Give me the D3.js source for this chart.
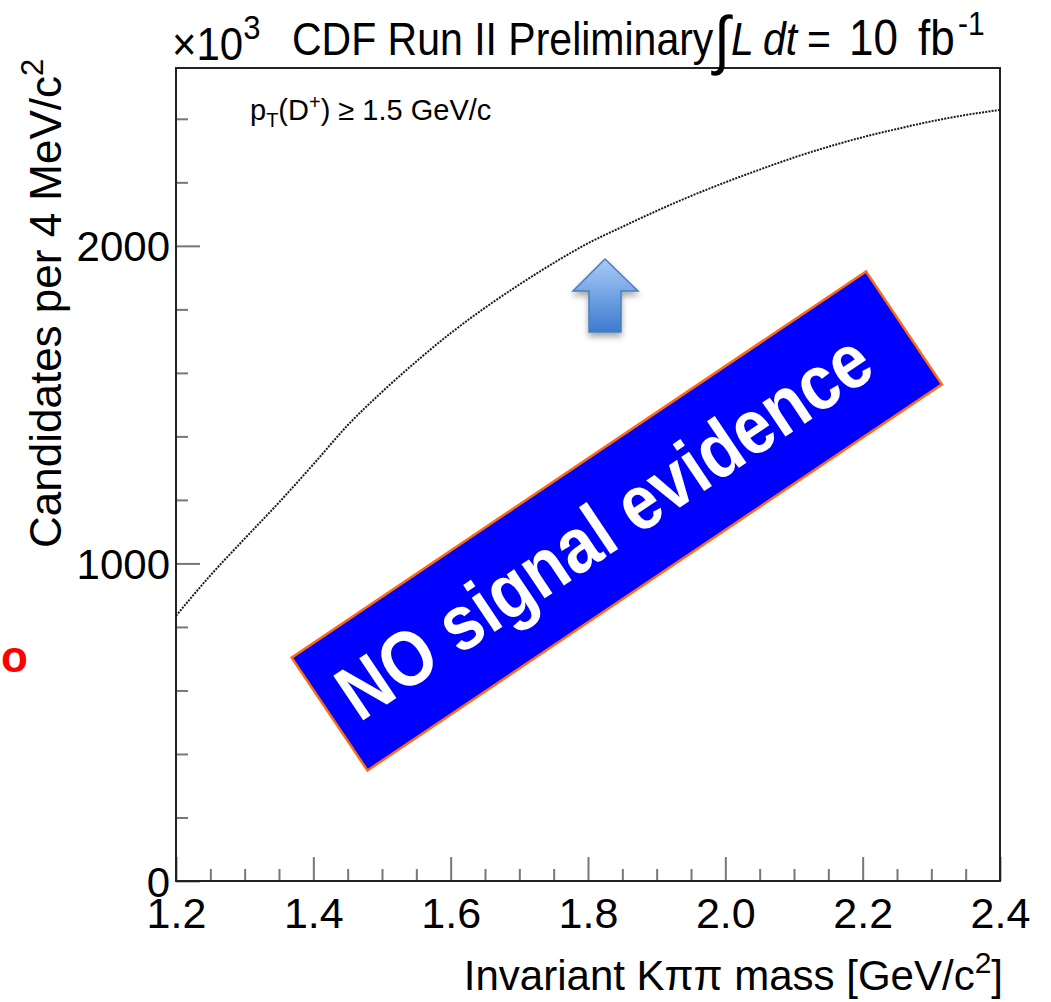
<!DOCTYPE html>
<html><head><meta charset="utf-8">
<script src="https://cdn.jsdelivr.net/npm/d3@7"></script>
<style>
html,body{margin:0;padding:0;background:#fff;}
svg{display:block;}
text{font-family:"Liberation Sans",Arial,Helvetica,sans-serif;}
</style></head>
<body>
<script>
// ---- data ----
const masses = [1.20,1.25,1.30,1.35,1.40,1.45,1.50,1.55,1.60,1.65,1.70,1.75,1.80,1.85,1.90,1.95,2.00,2.05,2.10,2.15,2.20,2.25,2.30,2.35,2.40];
const counts = [835,962,1078,1192,1312,1435,1540,1636,1725,1805,1878,1946,2008,2060,2110,2157,2200,2240,2278,2312,2342,2368,2392,2412,2428];
const xMajorTicks = [1.2,1.4,1.6,1.8,2.0,2.2,2.4];
const xTickLabels = ["1.2","1.4","1.6","1.8","2.0","2.2","2.4"];
const yMajorTicks = [0,1000,2000];
const yTickLabels = ["0","1000","2000"];

const W = 1051, H = 1002;
const svg = d3.select("body").append("svg").attr("width", W).attr("height", H);

const frame = {left:176, right:1000, top:68, bottom:881};
const x = d3.scaleLinear().domain([1.2, 2.4]).range([frame.left, frame.right]);
const y = d3.scaleLinear().domain([0, 2560]).range([frame.bottom, frame.top]);

const defs = svg.append("defs");
const grad = defs.append("linearGradient").attr("id","arrowGrad").attr("x1",0).attr("y1",0).attr("x2",0).attr("y2",1);
grad.append("stop").attr("offset","0%").attr("stop-color","#a9cbf7");
grad.append("stop").attr("offset","100%").attr("stop-color","#3d7bd0");
const filt = defs.append("filter").attr("id","shadow").attr("x","-50%").attr("y","-50%").attr("width","200%").attr("height","200%");
filt.append("feDropShadow").attr("dx",0).attr("dy",4).attr("stdDeviation",3).attr("flood-color","#000").attr("flood-opacity",0.35);

// x ticks (inward)
const xMinor = d3.range(1.25, 2.4, 0.05).filter(v => Math.abs(Math.round(v*5)-v*5) > 1e-6);
const xAxis = svg.append("g").attr("transform", `translate(0,${frame.bottom})`)
  .call(d3.axisBottom(x).tickValues(xMajorTicks).tickSize(-24).tickFormat((d,i)=>xTickLabels[i]));
xAxis.select(".domain").remove();
xAxis.selectAll(".tick line").attr("stroke","#777").attr("stroke-width",2);
xAxis.selectAll(".tick text").attr("font-size",43).attr("fill","#000").attr("dy",0).attr("y",47)
  .attr("font-family","'Liberation Sans',Arial,sans-serif");
const xAxisMinor = svg.append("g").attr("transform", `translate(0,${frame.bottom})`)
  .call(d3.axisBottom(x).tickValues(xMinor).tickSize(-12).tickFormat(""));
xAxisMinor.select(".domain").remove();
xAxisMinor.selectAll(".tick line").attr("stroke","#777").attr("stroke-width",2);

// y ticks (inward)
const yMinor = d3.range(200, 2500, 200).filter(v => v % 1000 !== 0);
const yAxis = svg.append("g").attr("transform", `translate(${frame.left},0)`)
  .call(d3.axisLeft(y).tickValues(yMajorTicks).tickSize(-24).tickFormat((d,i)=>yTickLabels[i]));
yAxis.select(".domain").remove();
yAxis.selectAll(".tick line").attr("stroke","#777").attr("stroke-width",2);
yAxis.selectAll(".tick text").attr("font-size",42).attr("fill","#000").attr("x",-6).attr("dy","0.36em")
  .attr("font-family","'Liberation Sans',Arial,sans-serif");
const yAxisMinor = svg.append("g").attr("transform", `translate(${frame.left},0)`)
  .call(d3.axisLeft(y).tickValues(yMinor).tickSize(-12).tickFormat(""));
yAxisMinor.select(".domain").remove();
yAxisMinor.selectAll(".tick line").attr("stroke","#777").attr("stroke-width",2);

// frame
svg.append("rect").attr("x",frame.left).attr("y",frame.top)
  .attr("width",frame.right-frame.left).attr("height",frame.bottom-frame.top)
  .attr("fill","none").attr("stroke","#222").attr("stroke-width",2);

// data curve (dotted histogram look)
const pts = masses.map((m,i)=>[m, counts[i]]);
svg.append("path").datum(pts)
  .attr("d", d3.line().x(d=>x(d[0])).y(d=>y(d[1])).curve(d3.curveMonotoneX))
  .attr("fill","none").attr("stroke","#1a1a1a").attr("stroke-width",2).attr("stroke-dasharray","2,1.2");

// title (slightly tall glyphs, like the reference)
const t1 = svg.append("text").attr("transform","translate(0,60) scale(1,1.1)").attr("x",172).attr("y",0)
  .attr("font-size",42).attr("fill","#000");
t1.append("tspan").text("×10");
t1.append("tspan").attr("dy",-19).attr("font-size",31).text("3");
const t2 = svg.append("text").attr("transform","translate(0,55) scale(1,1.12)").attr("y",0)
  .attr("font-size",41).attr("fill","#000");
t2.append("tspan").attr("x",292).text("CDF Run II Preliminary");
t2.append("tspan").attr("x",714).attr("dy",6).attr("font-size",58).text("∫");
t2.append("tspan").attr("x",731).attr("dy",-6).attr("font-style","italic").text("L");
t2.append("tspan").attr("x",763).attr("font-style","italic").text("dt");
t2.append("tspan").attr("x",807).text("=");
t2.append("tspan").attr("x",849).attr("font-size",44).text("10");
t2.append("tspan").attr("x",918).attr("font-size",44).text("fb");
t2.append("tspan").attr("x",958).attr("dy",-18).attr("font-size",30).text("-1");

// inner label
const pt = svg.append("text").attr("x",250).attr("y",120).attr("font-size",29).attr("fill","#000");
pt.append("tspan").text("p");
pt.append("tspan").attr("dy",7).attr("font-size",20).text("T");
pt.append("tspan").attr("dy",-7).text("(D");
pt.append("tspan").attr("dy",-11).attr("font-size",20).text("+");
pt.append("tspan").attr("dy",11).text(") ≥ 1.5 GeV/c");

// y-axis title
const yl = svg.append("text").attr("transform","translate(61,548) rotate(-90)").attr("font-size",44).attr("fill","#000");
yl.append("tspan").text("Candidates per 4 MeV/c");
yl.append("tspan").attr("dy",-18).attr("font-size",31).text("2");

// x-axis title
const xl = svg.append("text").attr("x",1003).attr("y",990).attr("text-anchor","end").attr("font-size",42).attr("fill","#000");
xl.append("tspan").text("Invariant Kππ mass [GeV/c");
xl.append("tspan").attr("dy",-17).attr("font-size",30).text("2");
xl.append("tspan").attr("dy",17).text("]");

// red fragment at left
svg.append("text").attr("x",1).attr("y",672).attr("font-size",44).attr("font-weight","bold")
  .attr("fill","#ff0000").text("o");

// blue arrow annotation
const arrowPath = "M605,259 L638,291 L621,291 L621,332 L589,332 L589,291 L573,291 Z";
svg.append("path").attr("d",arrowPath).attr("fill","url(#arrowGrad)").attr("stroke","#4a7ebb")
  .attr("stroke-width",1.5).attr("filter","url(#shadow)");

// rotated box with text
const box = svg.append("g").attr("transform","translate(616.75,521) rotate(-33.9)");
box.append("rect").attr("x",-346).attr("y",-68).attr("width",692).attr("height",136)
  .attr("fill","#0000ff").attr("stroke","#ff6a10").attr("stroke-width",2.5);
const bt = box.append("text").attr("x",-326).attr("y",0).attr("transform","translate(0,24) scale(1,1.15)")
  .attr("font-size",60).attr("font-weight","bold")
  .attr("fill","#fff").attr("font-family","'Open Sans',sans-serif").text("NO signal evidence");
const L = bt.node().getComputedTextLength();
bt.attr("font-size", 60*625/L);
</script>
</body></html>
